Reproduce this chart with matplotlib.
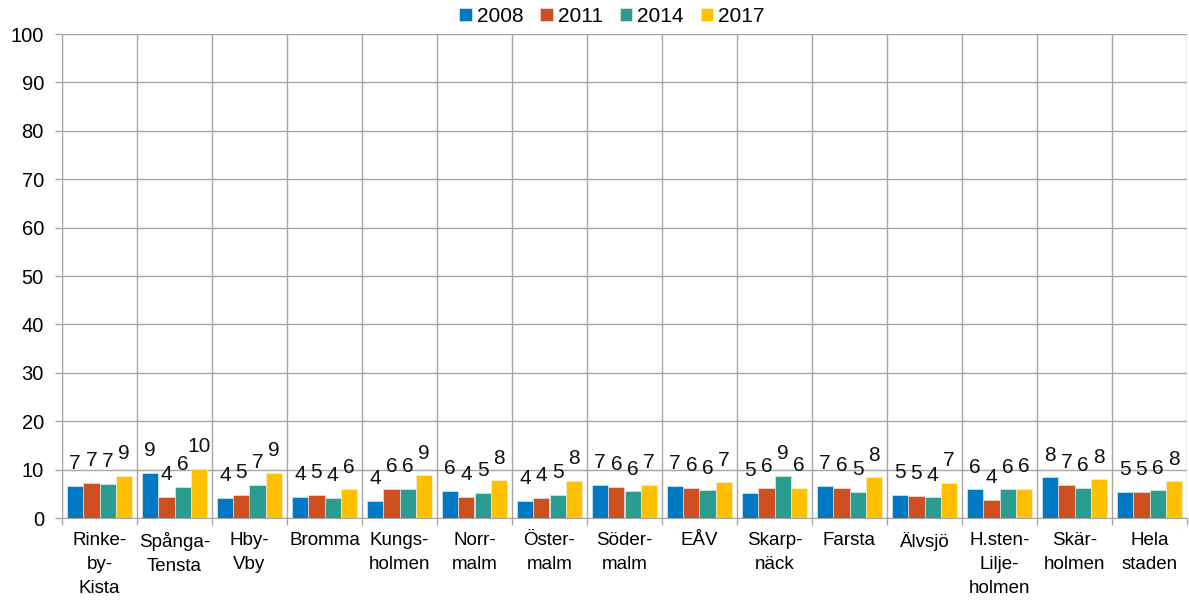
import matplotlib
matplotlib.use("Agg")
import matplotlib.pyplot as plt
import numpy as np

# districts (x tick labels, wrapped as in the source)
districts = ["Rinke-\nby-\nKista", "Spånga-\nTensta", "Hby-\nVby", "Bromma",
             "Kungs-\nholmen", "Norr-\nmalm", "Öster-\nmalm", "Söder-\nmalm",
             "EÅV", "Skarp-\nnäck", "Farsta", "Älvsjö",
             "H.sten-\nLilje-\nholmen", "Skär-\nholmen", "Hela\nstaden"]
years = ["2008", "2011", "2014", "2017"]

# bar heights
v2008 = [6.6, 9.4, 4.1, 4.4, 3.6, 5.6, 3.6, 6.8, 6.6, 5.2, 6.6, 4.8, 5.9, 8.4, 5.4]
v2011 = [7.2, 4.4, 4.8, 4.8, 6.0, 4.4, 4.1, 6.4, 6.2, 6.1, 6.2, 4.6, 3.8, 6.8, 5.4]
v2014 = [7.0, 6.4, 6.8, 4.1, 6.0, 5.2, 4.8, 5.5, 5.7, 8.7, 5.4, 4.3, 5.9, 6.2, 5.7]
v2017 = [8.7, 10.1, 9.4, 5.9, 8.8, 7.8, 7.7, 6.9, 7.4, 6.2, 8.4, 7.3, 6.0, 8.0, 7.6]

# printed value labels
l2008 = [7, 9, 4, 4, 4, 6, 4, 7, 7, 5, 7, 5, 6, 8, 5]
l2011 = [7, 4, 5, 5, 6, 4, 4, 6, 6, 6, 6, 5, 4, 7, 5]
l2014 = [7, 6, 7, 4, 6, 5, 5, 6, 6, 9, 5, 4, 6, 6, 6]
l2017 = [9, 10, 9, 6, 9, 8, 8, 7, 7, 6, 8, 7, 6, 8, 8]

colors = ["#0078C3", "#CC5020", "#2A9C90", "#FFC000"]

plt.rcParams['font.family'] = ['Liberation Sans', 'DejaVu Sans']

fig = plt.figure(figsize=(11.89, 6.05), dpi=100)
ax = fig.add_axes([62 / 1189, 87 / 605, 1125 / 1189, 484 / 605])

x = np.arange(len(districts))
w = 0.217
series = [v2008, v2011, v2014, v2017]
labels = [l2008, l2011, l2014, l2017]
for i, (vals, labs) in enumerate(zip(series, labels)):
    pos = x + (i - 1.5) * w
    ax.bar(pos, vals, width=w, color=colors[i], edgecolor="#f2f2f2",
           linewidth=0.4, label=years[i], zorder=3)
    for px, v, t in zip(pos, vals, labs):
        ax.annotate(str(t), (px, v), xytext=(0, 12), textcoords="offset points",
                    ha="center", va="baseline", fontsize=15, color="#111111")

ax.set_xlim(-0.5, len(districts) - 0.5)
ax.set_ylim(0, 100)
ax.set_yticks(range(0, 101, 10))
ax.set_xticks(x)
ax.set_xticklabels(districts, fontsize=13.5, linespacing=1.55, va="top")
ax.set_xticks(np.arange(-0.5, len(districts)), minor=True)
ax.tick_params(axis="x", which="major", length=0, pad=10)
ax.tick_params(axis="x", which="minor", length=5, color="#A6A6A6", width=1)
ax.tick_params(axis="y", labelsize=14.5, length=5, color="#A6A6A6", width=1, pad=8)

ax.grid(axis="y", color="#A6A6A6", linewidth=1, zorder=0)
ax.grid(axis="x", which="minor", color="#A6A6A6", linewidth=1, zorder=0)
for s in ["top", "right"]:
    ax.spines[s].set_visible(False)
ax.spines["left"].set_color("#A6A6A6")
ax.spines["bottom"].set_color("#A6A6A6")

fig.legend(loc="center", bbox_to_anchor=(612 / 1189, 1 - 16 / 605), ncol=4,
           frameon=False, fontsize=15, handlelength=0.6, handleheight=0.6,
           handletextpad=0.25, columnspacing=0.8)

fig.savefig("out.png", dpi=100)
